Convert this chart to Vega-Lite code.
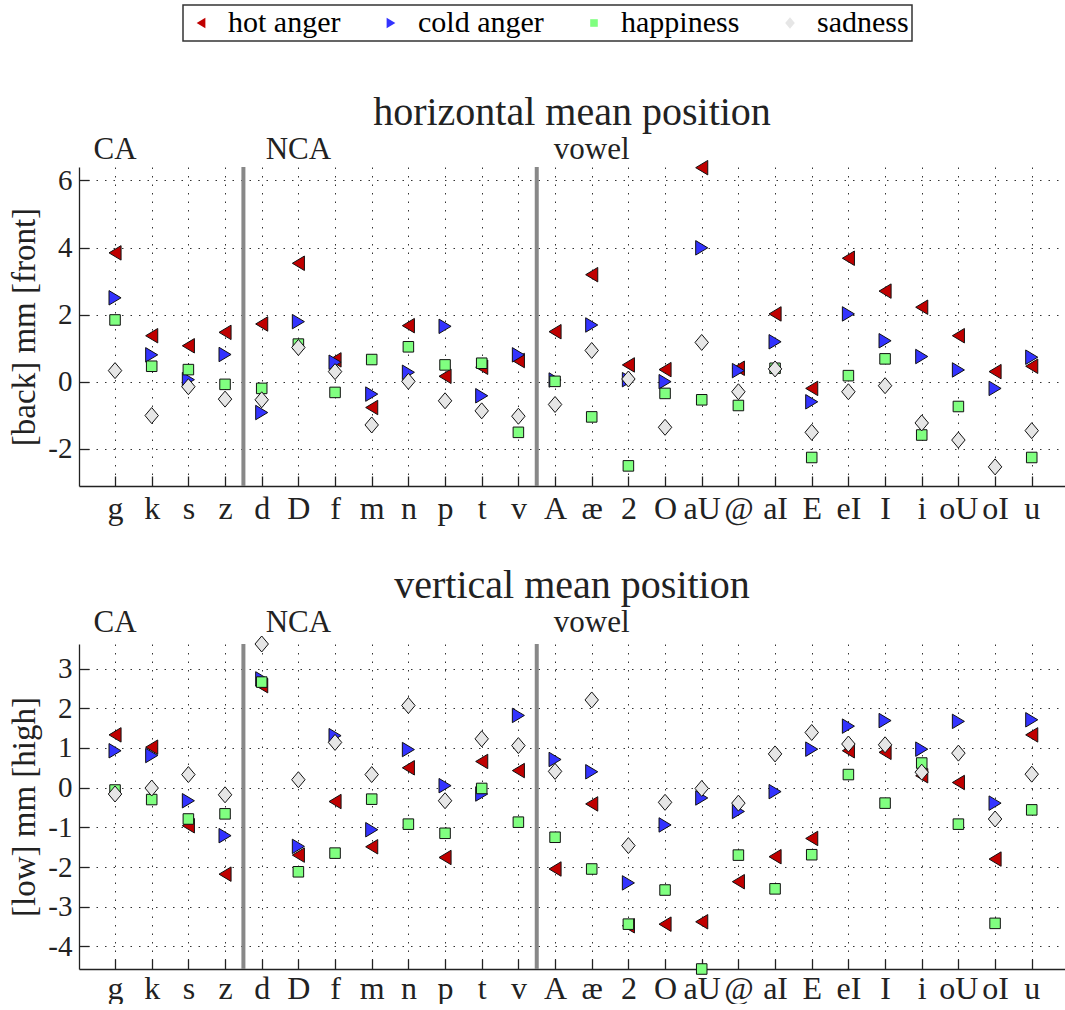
{
  "$schema": "https://vega.github.io/schema/vega-lite/v6.json",
  "background": "white",
  "padding": {"left": 8, "top": 4, "right": 0, "bottom": 0},
  "datasets": {
    "horizontal": [
      {"phone": "g", "hot anger": 3.84, "cold anger": 2.50, "happiness": 1.84, "sadness": 0.33},
      {"phone": "k", "hot anger": 1.37, "cold anger": 0.80, "happiness": 0.46, "sadness": -1.01},
      {"phone": "s", "hot anger": 1.07, "cold anger": 0.06, "happiness": 0.36, "sadness": -0.15},
      {"phone": "z", "hot anger": 1.47, "cold anger": 0.81, "happiness": -0.08, "sadness": -0.52},
      {"phone": "d", "hot anger": 1.72, "cold anger": -0.92, "happiness": -0.20, "sadness": -0.54},
      {"phone": "D", "hot anger": 3.53, "cold anger": 1.79, "happiness": 1.12, "sadness": 1.02},
      {"phone": "f", "hot anger": 0.65, "cold anger": 0.58, "happiness": -0.32, "sadness": 0.30},
      {"phone": "m", "hot anger": -0.77, "cold anger": -0.37, "happiness": 0.66, "sadness": -1.29},
      {"phone": "n", "hot anger": 1.67, "cold anger": 0.28, "happiness": 1.04, "sadness": 0.01},
      {"phone": "p", "hot anger": 0.16, "cold anger": 1.65, "happiness": 0.50, "sadness": -0.57},
      {"phone": "t", "hot anger": 0.43, "cold anger": -0.42, "happiness": 0.55, "sadness": -0.87},
      {"phone": "v", "hot anger": 0.63, "cold anger": 0.80, "happiness": -1.51, "sadness": -1.03},
      {"phone": "A", "hot anger": 1.49, "cold anger": 0.05, "happiness": 0.01, "sadness": -0.68},
      {"phone": "æ", "hot anger": 3.19, "cold anger": 1.69, "happiness": -1.05, "sadness": 0.93},
      {"phone": "2", "hot anger": 0.50, "cold anger": 0.06, "happiness": -2.51, "sadness": 0.08},
      {"phone": "O", "hot anger": 0.36, "cold anger": 0.00, "happiness": -0.35, "sadness": -1.36},
      {"phone": "aU", "hot anger": 6.38, "cold anger": 3.99, "happiness": -0.54, "sadness": 1.17},
      {"phone": "@", "hot anger": 0.40, "cold anger": 0.33, "happiness": -0.71, "sadness": -0.30},
      {"phone": "aI", "hot anger": 2.02, "cold anger": 1.19, "happiness": 0.40, "sadness": 0.38},
      {"phone": "E", "hot anger": -0.20, "cold anger": -0.60, "happiness": -2.26, "sadness": -1.51},
      {"phone": "eI", "hot anger": 3.68, "cold anger": 2.02, "happiness": 0.18, "sadness": -0.30},
      {"phone": "I", "hot anger": 2.70, "cold anger": 1.22, "happiness": 0.68, "sadness": -0.12},
      {"phone": "i", "hot anger": 2.22, "cold anger": 0.75, "happiness": -1.59, "sadness": -1.23},
      {"phone": "oU", "hot anger": 1.37, "cold anger": 0.35, "happiness": -0.74, "sadness": -1.74},
      {"phone": "oI", "hot anger": 0.30, "cold anger": -0.20, "happiness": null, "sadness": -2.54},
      {"phone": "u", "hot anger": 0.46, "cold anger": 0.73, "happiness": -2.26, "sadness": -1.46}
    ],
    "vertical": [
      {"phone": "g", "hot anger": 1.33, "cold anger": 0.93, "happiness": -0.06, "sadness": -0.16},
      {"phone": "k", "hot anger": 1.02, "cold anger": 0.81, "happiness": -0.30, "sadness": -0.01},
      {"phone": "s", "hot anger": -0.96, "cold anger": -0.33, "happiness": -0.79, "sadness": 0.33},
      {"phone": "z", "hot anger": -2.18, "cold anger": -1.21, "happiness": -0.66, "sadness": -0.18},
      {"phone": "d", "hot anger": 2.57, "cold anger": 2.74, "happiness": 2.66, "sadness": 3.62},
      {"phone": "D", "hot anger": -1.70, "cold anger": -1.48, "happiness": -2.12, "sadness": 0.20},
      {"phone": "f", "hot anger": -0.35, "cold anger": 1.31, "happiness": -1.65, "sadness": 1.14},
      {"phone": "m", "hot anger": -1.49, "cold anger": -1.06, "happiness": -0.29, "sadness": 0.33},
      {"phone": "n", "hot anger": 0.50, "cold anger": 0.96, "happiness": -0.92, "sadness": 2.07},
      {"phone": "p", "hot anger": -1.76, "cold anger": 0.05, "happiness": -1.15, "sadness": -0.33},
      {"phone": "t", "hot anger": 0.66, "cold anger": -0.16, "happiness": -0.02, "sadness": 1.23},
      {"phone": "v", "hot anger": 0.43, "cold anger": 1.82, "happiness": -0.87, "sadness": 1.06},
      {"phone": "A", "hot anger": -2.05, "cold anger": 0.71, "happiness": -1.25, "sadness": 0.41},
      {"phone": "æ", "hot anger": -0.41, "cold anger": 0.40, "happiness": -2.05, "sadness": 2.21},
      {"phone": "2", "hot anger": -3.48, "cold anger": -2.40, "happiness": -3.44, "sadness": -1.46},
      {"phone": "O", "hot anger": -3.44, "cold anger": -0.94, "happiness": -2.58, "sadness": -0.37},
      {"phone": "aU", "hot anger": -3.38, "cold anger": -0.26, "happiness": -4.57, "sadness": -0.02},
      {"phone": "@", "hot anger": -2.37, "cold anger": -0.60, "happiness": -1.70, "sadness": -0.39},
      {"phone": "aI", "hot anger": -1.74, "cold anger": -0.10, "happiness": -2.55, "sadness": 0.85},
      {"phone": "E", "hot anger": -1.28, "cold anger": 0.97, "happiness": -1.69, "sadness": 1.39},
      {"phone": "eI", "hot anger": 0.93, "cold anger": 1.55, "happiness": 0.33, "sadness": 1.10},
      {"phone": "I", "hot anger": 0.89, "cold anger": 1.69, "happiness": -0.39, "sadness": 1.08},
      {"phone": "i", "hot anger": 0.30, "cold anger": 0.97, "happiness": 0.62, "sadness": 0.39},
      {"phone": "oU", "hot anger": 0.13, "cold anger": 1.67, "happiness": -0.92, "sadness": 0.87},
      {"phone": "oI", "hot anger": -1.80, "cold anger": -0.39, "happiness": -3.42, "sadness": -0.79},
      {"phone": "u", "hot anger": 1.33, "cold anger": 1.71, "happiness": -0.56, "sadness": 0.34}
    ],
    "groups": [
      {"group": "CA", "phone": "g"},
      {"group": "NCA", "phone": "D"},
      {"group": "vowel", "phone": "æ"}
    ],
    "boundaries": [
      {"phone": "d"},
      {"phone": "A"}
    ]
  },
  "config": {
    "font": "Liberation Serif",
    "view": {"stroke": null},
    "title": {"font": "Liberation Serif", "fontSize": 40, "fontWeight": "normal", "color": "#222", "anchor": "middle", "frame": "group", "offset": 1},
    "axis": {
      "domainColor": "#222", "domainWidth": 1.3,
      "tickColor": "#222", "tickWidth": 1.3, "tickSize": -10,
      "grid": true, "gridColor": "#333", "gridDash": [1.5, 7], "gridWidth": 1,
      "labelFont": "Liberation Serif", "labelColor": "#222",
      "titleFont": "Liberation Serif", "titleColor": "#222", "titleFontWeight": "normal"
    },
    "legend": {
      "orient": "none", "legendX": 104, "legendY": -162, "direction": "horizontal",
      "labelFont": "Liberation Serif", "labelFontSize": 30, "labelColor": "#000",
      "symbolSize": 150, "symbolStrokeColor": "#111", "symbolStrokeWidth": 1,
      "strokeColor": "#333", "strokeWidth": 1.5, "fillColor": "white",
      "padding": 3, "columnPadding": 35, "labelOffset": 12
    }
  },
  "resolve": {"scale": {"y": "independent"}},
  "spacing": 41,
  "vconcat": [
    {
      "title": "horizontal mean position",
      "width": 986,
      "height": 319,
      "encoding": {
        "x": {
          "field": "phone", "type": "nominal",
          "scale": {"type": "point", "domain": ["g","k","s","z","d","D","f","m","n","p","t","v","A","æ","2","O","aU","@","aI","E","eI","I","i","oU","oI","u"], "padding": 0.945, "align": 0.52},
          "axis": {"title": null, "labelAngle": 0, "labelFont": "Liberation Serif", "labelFontSize": 32, "labelPadding": 42, "labelBaseline": "alphabetic"}
        }
      },
      "layer": [
        {
          "data": {"name": "boundaries"},
          "mark": {"type": "rule", "color": "#888", "strokeWidth": 4, "xOffset": -18.3}
        },
        {
          "data": {"name": "groups"},
          "mark": {"type": "text", "font": "Liberation Serif", "fontSize": 31, "color": "#222", "baseline": "middle", "align": "center"},
          "encoding": {
            "y": {"datum": 6.92, "type": "quantitative", "scale": {"domain": [-3.11, 6.4], "nice": false, "zero": false}, "axis": {"values": [-2, 0, 2, 4, 6], "title": "[back] mm [front]", "labelExpr": "toString(datum.value)", "labelFont": "Liberation Serif", "labelFontSize": 29, "labelPadding": 17, "titleFont": "Liberation Serif", "titleFontSize": 33, "titleX": -55, "titleAngle": -90, "titleBaseline": "middle", "titleAlign": "center"}},
            "text": {"field": "group"}
          }
        },
        {
          "data": {"name": "horizontal"},
          "transform": [{"fold": ["hot anger", "cold anger", "happiness", "sadness"], "as": ["emotion", "value"]}],
          "mark": {"type": "point", "filled": true, "opacity": 1, "stroke": "#111", "strokeWidth": 1, "size": 289},
          "encoding": {
            "y": {"field": "value", "type": "quantitative", "scale": {"domain": [-3.11, 6.4], "nice": false, "zero": false}, "axis": {"values": [-2, 0, 2, 4, 6], "title": "[back] mm [front]", "labelExpr": "toString(datum.value)", "labelFont": "Liberation Serif", "labelFontSize": 29, "labelPadding": 17, "titleFont": "Liberation Serif", "titleFontSize": 33, "titleX": -55, "titleAngle": -90, "titleBaseline": "middle", "titleAlign": "center"}},
            "fill": {"field": "emotion", "type": "nominal", "title": null, "scale": {"domain": ["hot anger", "cold anger", "happiness", "sadness"], "range": ["#c00000", "#3333ff", "#80ff80", "#e6e6e6"]}, "legend": {"labelFont": "Liberation Serif", "symbolStrokeColor": "#111", "symbolStrokeWidth": 1, "encode": {"symbols": {"update": {"stroke": {"value": "#111"}, "strokeWidth": {"value": 1}}}, "labels": {"update": {"font": {"value": "Liberation Serif"}}}}}},
            "shape": {"field": "emotion", "type": "nominal", "title": null, "scale": {"domain": ["hot anger", "cold anger", "happiness", "sadness"], "range": ["M-0.71,0L0.71,-0.85L0.71,0.85Z", "M0.71,0L-0.71,-0.85L-0.71,0.85Z", "M-0.62,-0.62L0.62,-0.62L0.62,0.62L-0.62,0.62Z", "M0,-0.94L0.79,0L0,0.94L-0.79,0Z"]}}
          }
        }
      ]
    },
    {
      "title": "vertical mean position",
      "width": 986,
      "height": 325,
      "encoding": {
        "x": {
          "field": "phone", "type": "nominal",
          "scale": {"type": "point", "domain": ["g","k","s","z","d","D","f","m","n","p","t","v","A","æ","2","O","aU","@","aI","E","eI","I","i","oU","oI","u"], "padding": 0.945, "align": 0.52},
          "axis": {"title": null, "labelAngle": 0, "labelFont": "Liberation Serif", "labelFontSize": 32, "labelPadding": 39, "labelBaseline": "alphabetic"}
        }
      },
      "layer": [
        {
          "data": {"name": "boundaries"},
          "mark": {"type": "rule", "color": "#888", "strokeWidth": 4, "xOffset": -18.3}
        },
        {
          "data": {"name": "groups"},
          "mark": {"type": "text", "font": "Liberation Serif", "fontSize": 31, "color": "#222", "baseline": "middle", "align": "center"},
          "encoding": {
            "y": {"datum": 4.15, "type": "quantitative", "scale": {"domain": [-4.57, 3.62], "nice": false, "zero": false}, "axis": {"values": [-4, -3, -2, -1, 0, 1, 2, 3], "title": "[low] mm [high]", "labelExpr": "toString(datum.value)", "labelFont": "Liberation Serif", "labelFontSize": 29, "labelPadding": 17, "titleFont": "Liberation Serif", "titleFontSize": 33, "titleX": -55, "titleAngle": -90, "titleBaseline": "middle", "titleAlign": "center"}},
            "text": {"field": "group"}
          }
        },
        {
          "data": {"name": "vertical"},
          "transform": [{"fold": ["hot anger", "cold anger", "happiness", "sadness"], "as": ["emotion", "value"]}],
          "mark": {"type": "point", "filled": true, "opacity": 1, "stroke": "#111", "strokeWidth": 1, "size": 289},
          "encoding": {
            "y": {"field": "value", "type": "quantitative", "scale": {"domain": [-4.57, 3.62], "nice": false, "zero": false}, "axis": {"values": [-4, -3, -2, -1, 0, 1, 2, 3], "title": "[low] mm [high]", "labelExpr": "toString(datum.value)", "labelFont": "Liberation Serif", "labelFontSize": 29, "labelPadding": 17, "titleFont": "Liberation Serif", "titleFontSize": 33, "titleX": -55, "titleAngle": -90, "titleBaseline": "middle", "titleAlign": "center"}},
            "fill": {"field": "emotion", "type": "nominal", "title": null, "scale": {"domain": ["hot anger", "cold anger", "happiness", "sadness"], "range": ["#c00000", "#3333ff", "#80ff80", "#e6e6e6"]}, "legend": {"labelFont": "Liberation Serif", "symbolStrokeColor": "#111", "symbolStrokeWidth": 1, "encode": {"symbols": {"update": {"stroke": {"value": "#111"}, "strokeWidth": {"value": 1}}}, "labels": {"update": {"font": {"value": "Liberation Serif"}}}}}},
            "shape": {"field": "emotion", "type": "nominal", "title": null, "scale": {"domain": ["hot anger", "cold anger", "happiness", "sadness"], "range": ["M-0.71,0L0.71,-0.85L0.71,0.85Z", "M0.71,0L-0.71,-0.85L-0.71,0.85Z", "M-0.62,-0.62L0.62,-0.62L0.62,0.62L-0.62,0.62Z", "M0,-0.94L0.79,0L0,0.94L-0.79,0Z"]}}
          }
        }
      ]
    }
  ]
}
